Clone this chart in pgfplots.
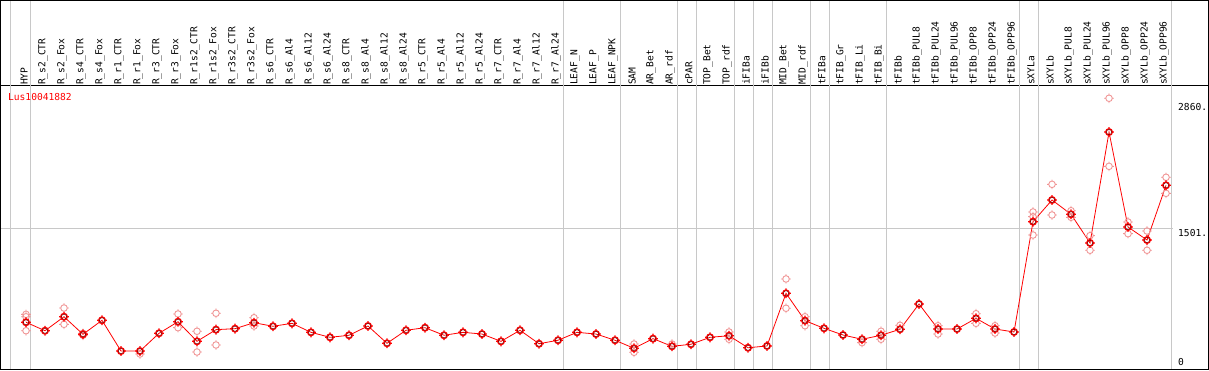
\documentclass[border=0pt]{standalone}
\usepackage{fontspec}
\setmonofont{DejaVu Sans Mono}
\usepackage{pgfplots}
\pgfplotsset{compat=1.18}
\usepackage{pgfplotstable}

\definecolor{pinkc}{RGB}{240,150,150}
\definecolor{sepc}{RGB}{200,200,200}

\pgfdeclareplotmark{tcirc}{%
  \pgfpathcircle{\pgfpointorigin}{\pgfplotmarksize}%
  \pgfpathmoveto{\pgfqpoint{\pgfplotmarksize}{0pt}}\pgfpathlineto{\pgfqpoint{1.45\pgfplotmarksize}{0pt}}%
  \pgfpathmoveto{\pgfqpoint{-\pgfplotmarksize}{0pt}}\pgfpathlineto{\pgfqpoint{-1.45\pgfplotmarksize}{0pt}}%
  \pgfpathmoveto{\pgfqpoint{0pt}{\pgfplotmarksize}}\pgfpathlineto{\pgfqpoint{0pt}{1.45\pgfplotmarksize}}%
  \pgfpathmoveto{\pgfqpoint{0pt}{-\pgfplotmarksize}}\pgfpathlineto{\pgfqpoint{0pt}{-1.45\pgfplotmarksize}}%
  \pgfusepathqstroke}

\pgfplotstableread{
x y
0 446
1 351
2 508
3 311
4 468
5 123
6 123
7 322
8 452
9 232
10 363
11 374
12 441
13 401
14 434
15 333
16 277
17 300
18 404
19 210
20 356
21 385
22 300
23 333
24 314
25 232
26 356
27 205
28 244
29 333
30 314
31 244
32 154
33 262
34 176
35 199
36 277
37 295
38 160
39 180
40 771
41 464
42 378
43 303
44 255
45 300
46 367
47 651
48 370
49 370
50 490
51 370
52 337
53 1575
54 1818
55 1658
56 1336
57 2581
58 1515
59 1369
60 1983
}\mainT

\pgfplotstableread{
x y
0 535
0 508
0 351
2 606
2 423
3 322
3 300
6 90
8 539
8 385
9 345
9 112
10 547
10 191
12 497
12 404
32 202
32 109
34 202
37 337
37 255
40 932
40 603
41 508
41 407
44 217
45 345
45 255
46 412
48 407
48 314
50 542
50 434
51 407
51 325
53 1684
53 1631
53 1425
54 1994
54 1650
55 1698
55 1624
56 1418
56 1254
57 2960
57 2196
58 1571
58 1440
59 1470
59 1254
60 2073
60 1893
}\repT

\begin{document}
\begin{tikzpicture}
\begin{axis}[
  at={(0pt,1pt)}, anchor=south west,
  scale only axis,
  width=1209pt, height=284pt,
  xmin=-1.36842, xmax=62.26316,
  ymin=-78.6, ymax=3108.9,
  clip=false,
  axis line style={black, line width=1pt},
  ytick=\empty,
  xtick={0,...,60},
  xticklabel pos=upper,
  xtick style={draw=none},
  xticklabel style={rotate=90, anchor=west, inner sep=0pt, yshift=2pt,
    font=\ttfamily\fontsize{9.6}{10}\selectfont},
  xticklabels={HYP,R\_s2\_CTR,R\_s2\_Fox,R\_s4\_CTR,R\_s4\_Fox,R\_r1\_CTR,R\_r1\_Fox,R\_r3\_CTR,R\_r3\_Fox,R\_r1s2\_CTR,R\_r1s2\_Fox,R\_r3s2\_CTR,R\_r3s2\_Fox,R\_s6\_CTR,R\_s6\_Al4,R\_s6\_Al12,R\_s6\_Al24,R\_s8\_CTR,R\_s8\_Al4,R\_s8\_Al12,R\_s8\_Al24,R\_r5\_CTR,R\_r5\_Al4,R\_r5\_Al12,R\_r5\_Al24,R\_r7\_CTR,R\_r7\_Al4,R\_r7\_Al12,R\_r7\_Al24,LEAF\_N,LEAF\_P,LEAF\_NPK,SAM,AR\_Bet,AR\_rdf,cPAR,TOP\_Bet,TOP\_rdf,iFIBa,iFIBb,MID\_Bet,MID\_rdf,tFIBa,tFIB\_Gr,tFIB\_Li,tFIB\_Bi,tFIBb,tFIBb\_PUL8,tFIBb\_PUL24,tFIBb\_PUL96,tFIBb\_OPP8,tFIBb\_OPP24,tFIBb\_OPP96,sXYLa,sXYLb,sXYLb\_PUL8,sXYLb\_PUL24,sXYLb\_PUL96,sXYLb\_OPP8,sXYLb\_OPP24,sXYLb\_OPP96},
]
% separators
\pgfplotsinvokeforeach{-0.8,0.263,28.263,31.263,34.263,35.263,37.263,38.263,39.263,41.263,42.263,45.263,52.263,53.263,60.263}{
  \draw[sepc, line width=1pt] (axis cs:#1,-78.6) -- ([yshift=85pt]axis cs:#1,3108.9);
}
\draw[sepc, line width=1pt] (axis cs:-1.36842,1501) -- (axis cs:60.35,1501);
% replicate points
\addplot[only marks, mark=tcirc, mark size=3.3pt, mark options={draw=pinkc, line width=0.9pt}] table[x=x,y=y]{\repT};
% main series
\addplot[red, line width=0.8pt, mark=tcirc, mark size=3.4pt, mark options={draw=red, line width=1.2pt}] table[x=x,y=y]{\mainT};
\addplot[only marks, mark=o, mark size=2.6pt, mark options={draw=red!45!black, line width=0.5pt}] table[x=x,y=y]{\mainT};
% labels
\node[anchor=west, text=red, inner sep=0pt, font=\ttfamily\fontsize{9.6}{10}\selectfont] at (axis cs:-0.95,2974) {Lus10041882};
\node[anchor=west, inner sep=0pt, font=\ttfamily\fontsize{9.6}{10}\selectfont] at (axis cs:60.63,2862) {2860.};
\node[anchor=west, inner sep=0pt, font=\ttfamily\fontsize{9.6}{10}\selectfont] at (axis cs:60.63,1448) {1501.};
\node[anchor=west, inner sep=0pt, font=\ttfamily\fontsize{9.6}{10}\selectfont] at (axis cs:60.63,0) {0};
\end{axis}
\draw[black, line width=1pt] (0.5pt,0.5pt) rectangle (1208.5pt,369.5pt);
\pgfresetboundingbox
\useasboundingbox (0pt,0pt) rectangle (1209pt,370pt);
\end{tikzpicture}
\end{document}
